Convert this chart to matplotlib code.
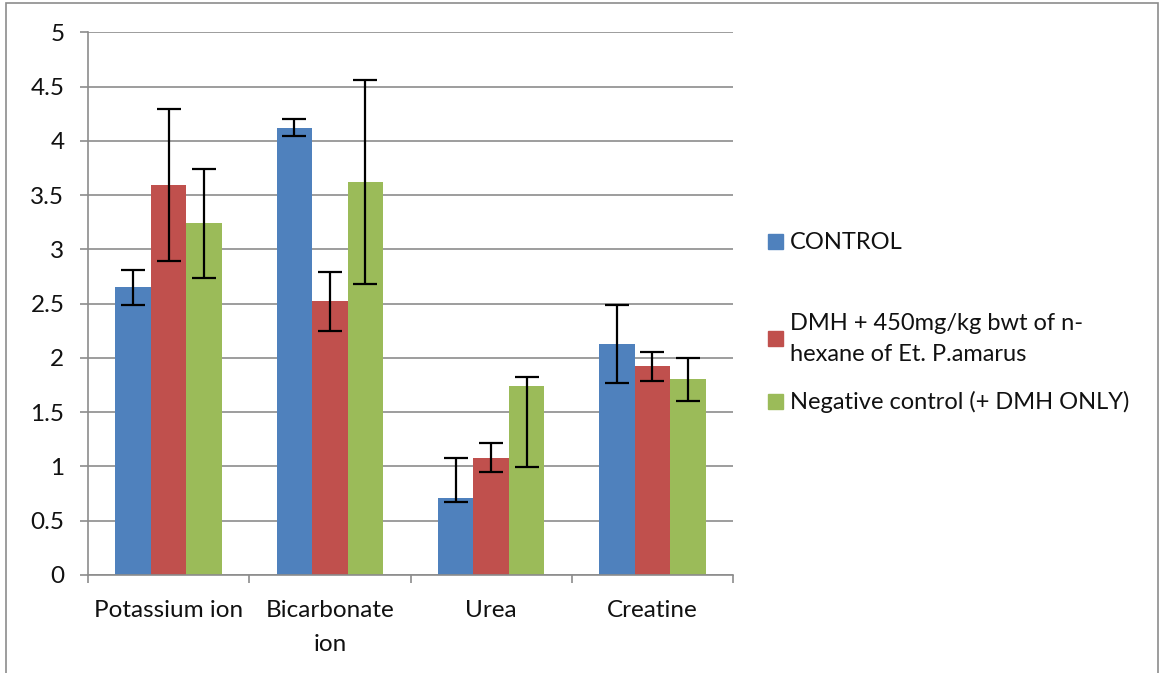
import numpy as np
import matplotlib.pyplot as plt
from matplotlib.patches import Rectangle

plt.rcParams['font.family'] = ['Lato', 'DejaVu Sans']

categories = ["Potassium ion", "Bicarbonate\nion", "Urea", "Creatine"]
series = ["CONTROL",
          "DMH + 450mg/kg bwt of n-\nhexane of Et. P.amarus",
          "Negative control (+ DMH ONLY)"]
colors = ["#4F81BD", "#C0504D", "#9BBB59"]

control = [2.65, 4.12, 0.71, 2.13]
dmh_extract = [3.59, 2.52, 1.08, 1.92]
negative = [3.24, 3.62, 1.74, 1.80]

# error bars (lower, upper)
control_err = [[0.16, 0.08, 0.04, 0.36], [0.16, 0.08, 0.37, 0.36]]
dmh_err = [[0.70, 0.27, 0.135, 0.13], [0.70, 0.27, 0.135, 0.13]]
negative_err = [[0.50, 0.94, 0.75, 0.20], [0.50, 0.94, 0.08, 0.20]]

values = [control, dmh_extract, negative]
errors = [control_err, dmh_err, negative_err]

W, H = 1161, 673
fig = plt.figure(figsize=(W / 100, H / 100), dpi=100)
ax = fig.add_axes([88 / W, 1 - 574.8 / H, (733 - 88) / W, (574.8 - 32.3) / H])

grid_c = "#8c8c8c"
x = np.arange(len(categories))
bw = 0.22
for i, (vals, err, c) in enumerate(zip(values, errors, colors)):
    ax.bar(x + (i - 1) * bw, vals, bw, color=c, zorder=2,
           yerr=np.array(err), capsize=8.5,
           error_kw=dict(ecolor="black", elinewidth=1.6, capthick=1.6, zorder=3))

ax.set_xlim(-0.5, len(categories) - 0.5)
ax.set_ylim(0, 5)
ax.set_yticks(np.arange(0, 5.01, 0.5))
ax.set_yticklabels(["0", "0.5", "1", "1.5", "2", "2.5", "3", "3.5", "4", "4.5", "5"])
ax.yaxis.grid(True, color=grid_c, linewidth=1.2, zorder=0)
ax.set_axisbelow(True)

ax.set_xticks(x)
ax.set_xticklabels(categories, linespacing=1.75)
ax.set_xticks(np.arange(-0.5, len(categories), 1.0), minor=True)
ax.tick_params(axis="x", which="major", length=0, pad=18, labelsize=17.5,
               labelcolor="#111111")
ax.tick_params(axis="x", which="minor", length=6, width=1.2, color=grid_c)
ax.tick_params(axis="y", length=6, width=1.2, color=grid_c, pad=11, labelsize=17.5,
               labelcolor="#111111")

for s in ["top", "right"]:
    ax.spines[s].set_visible(False)
for s in ["left", "bottom"]:
    ax.spines[s].set_color(grid_c)
    ax.spines[s].set_linewidth(1.2)

# legend placed by hand like Excel spreads it
leg_y = [242, 339, 402]
for name, c, yy in zip(series, colors, leg_y):
    fig.patches.append(Rectangle((768 / W, 1 - (yy + 7) / H), 15 / W, 15 / H,
                                 transform=fig.transFigure, color=c))
    fig.text(790 / W, 1 - yy / H, name, va="center", ha="left",
             fontsize=17, linespacing=1.55, color="#111111")

# outer chart border
fig.patches.append(Rectangle((6 / W, -0.02), (1158 - 6) / W, 1.02 - 3 / H,
                             transform=fig.transFigure, fill=False,
                             edgecolor=grid_c, linewidth=1.2))

fig.savefig("out.png", dpi=100)
